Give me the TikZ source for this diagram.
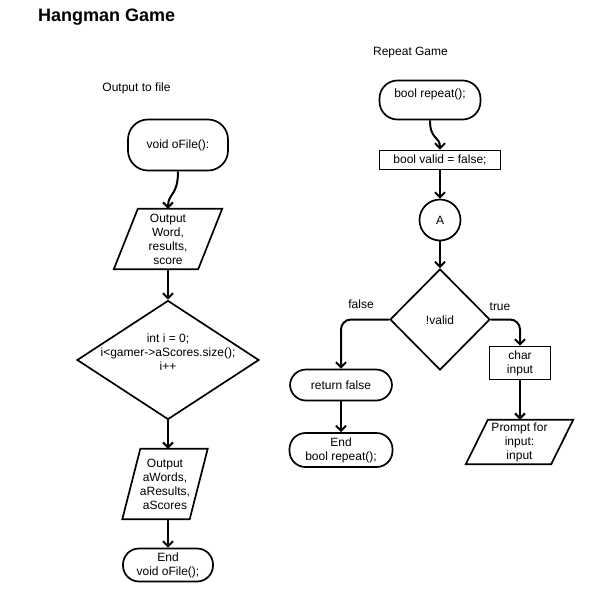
\documentclass[tikz,border=0pt]{standalone}
\usepackage{fontspec}
\setmainfont{Liberation Sans}
\usetikzlibrary{arrows.meta, shapes.geometric, positioning}
\tikzset{
  txt/.style={font=\fontsize{12}{14}\selectfont, align=center, inner sep=0pt},
  terminal/.style={txt, draw, line width=1.7pt, rounded corners=16pt},
  process/.style={txt, draw, line width=1.7pt},
  decision/.style={draw, diamond, line width=1.7pt, inner sep=0pt},
  iobox/.style={txt},
  ioedge/.style={line width=1.7pt, line join=miter},
  connector/.style={txt, draw, circle, line width=1.7pt, minimum size=41pt},
  flow/.style={-{Straight Barb[length=5pt,width=10pt]}, line width=2pt},
}
\begin{document}
\begin{tikzpicture}[x=1pt,y=-1pt]
  \useasboundingbox (0,0) rectangle (591,600);
  \node[anchor=west, font=\fontsize{18}{20}\selectfont\bfseries, inner sep=0pt] (title) at (38,17){Hangman Game};

  % output to file
  \node[txt] (lefthead) at (136.5,88){Output to file};
  \node[terminal, minimum width=100pt, minimum height=51pt, rounded corners=20pt] (ofile) at (178,145){void oFile():};
  \node[iobox, minimum width=84pt, minimum height=60pt] (out1) at (168,239){Output\\Word,\\results,\\score};
  \draw[ioedge] ([xshift=12pt]out1.north west) -- ([xshift=12pt]out1.north east)
    -- ([xshift=-12pt]out1.south east) -- ([xshift=-12pt]out1.south west) -- cycle;
  \node[decision, minimum width=182pt, minimum height=119pt] (loop) at (168,360){};
  \node[txt] (looptext) at (168,352){int i = 0;\\i<gamer->aScores.size();\\i++};
  \node[iobox, minimum width=67pt, minimum height=70pt] (out2) at (165,484){Output\\aWords,\\aResults,\\aScores};
  \draw[ioedge] ([xshift=9pt]out2.north west) -- ([xshift=9pt]out2.north east)
    -- ([xshift=-9pt]out2.south east) -- ([xshift=-9pt]out2.south west) -- cycle;
  \node[terminal, minimum width=90pt, minimum height=33pt] (endfile) at (168,565){End\\void oFile();};

  \draw[flow] (ofile.south) .. controls +(0,25) and +(0,-16) .. (out1.north);
  \draw[flow] (out1.south) -- (loop.north);
  \draw[flow] (loop.south) -- (loop.south |- out2.north);
  \draw[flow] (endfile.north |- out2.south) -- (endfile.north);

  % repeat game
  \node[txt] (righthead) at (410.5,53){Repeat Game};
  \node[terminal, minimum width=101pt, minimum height=39pt, text depth=14pt, rounded corners=18pt] (repeat) at (430,100){bool repeat();};
  \node[process, minimum width=121pt, minimum height=19pt] (valid) at (440,160){bool valid = false;};
  \node[connector] (conA) at (440,220){A};
  \node[decision, minimum width=100pt, minimum height=101pt] (check) at (440,319.5){};
  \node[txt] (checktext) at (440,320){!valid};
  \node[terminal, minimum width=102pt, minimum height=31pt] (ret) at (341,385){return false};
  \node[terminal, minimum width=103pt, minimum height=34pt] (endrep) at (341,450){End\\bool repeat();};
  \node[process, minimum width=61pt, minimum height=33pt] (input) at (520,363){char\\input};
  \node[iobox, minimum width=85pt, minimum height=44pt] (prompt) at (519.5,442){Prompt for\\input:\\input};
  \draw[ioedge] ([xshift=11pt]prompt.north west) -- ([xshift=11pt]prompt.north east)
    -- ([xshift=-11pt]prompt.south east) -- ([xshift=-11pt]prompt.south west) -- cycle;

  \draw[flow] (repeat.south) .. controls +(0,20) and +(0,-14) .. (valid.north);
  \draw[flow] (valid.south) -- (conA.north);
  \draw[flow] (conA.south) -- (check.north);
  \draw[flow, rounded corners=10pt] (check.west) -| (ret.north);
  \draw[flow, rounded corners=10pt] (check.east) -| (input.north);
  \draw[flow] (ret.south) -- (endrep.north);
  \draw[flow] (input.south) -- (input.south |- prompt.north);
  \node[txt] (falselabel) at (361,304){false};
  \node[txt] (truelabel) at (500,307){true};
\end{tikzpicture}
\end{document}
